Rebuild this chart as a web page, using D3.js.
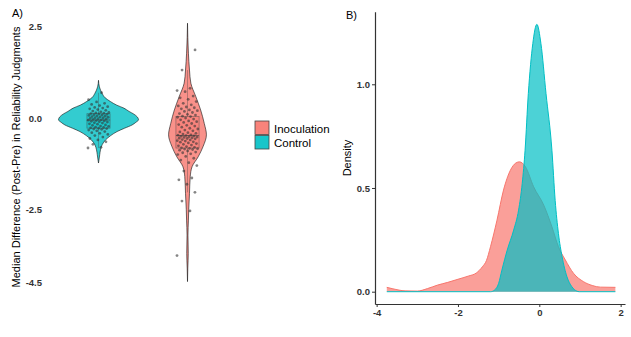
<!DOCTYPE html>
<html>
<head>
<meta charset="utf-8">
<script src="https://cdn.jsdelivr.net/npm/d3@7"></script>
<style>
  body { margin: 0; background: #fff; }
  svg { display: block; font-family: "Liberation Sans", Arial, sans-serif; }
</style>
</head>
<body>
<div id="chart"></div>
<script>
// groups and colours (ggplot defaults)
const groups = ["Control", "Inoculation"];
const legendGroups = ["Inoculation", "Control"];
const colors = { Inoculation: "#F8766D", Control: "#00BFC4" };

// raw points (median post-pre differences)
const controlPoints = [
  -0.82, -0.8, -0.72, -0.65, -0.6, -0.56, -0.52, -0.48, -0.45, -0.42, -0.4, -0.37, -0.35,
  -0.33, -0.31, -0.3, -0.29, -0.28, -0.27, -0.26, -0.25, -0.23, -0.22, -0.2, -0.19, -0.17,
  -0.16, -0.14, -0.13, -0.11, -0.1, -0.09, -0.08, -0.07, -0.06, -0.05, -0.04, -0.03, -0.02,
  -0.01, 0.0, 0.01, 0.02, 0.03, 0.04, 0.05, 0.06, 0.07, 0.08, 0.09, 0.1, 0.11, 0.12, 0.13,
  0.14, 0.15, 0.17, 0.19, 0.21, 0.23, 0.25, 0.27, 0.29, 0.31, 0.34, 0.37, 0.4, 0.44, 0.5, 0.69
];
const inoculationPoints = [
  -3.76, -2.54, -2.27, -2.03, -1.81, -1.69, -1.64, -1.45, -1.3, -1.22, -1.15, -1.1, -1.05,
  -1.0, -0.98, -0.95, -0.93, -0.9, -0.88, -0.86, -0.85, -0.84, -0.83, -0.82, -0.8, -0.78,
  -0.76, -0.74, -0.72, -0.7, -0.68, -0.66, -0.65, -0.63, -0.62, -0.6, -0.59, -0.57, -0.56,
  -0.55, -0.54, -0.53, -0.52, -0.51, -0.5, -0.49, -0.48, -0.47, -0.46, -0.44, -0.42, -0.4,
  -0.38, -0.35, -0.33, -0.3, -0.28, -0.25, -0.22, -0.2, -0.18, -0.15, -0.12, -0.1, -0.08,
  -0.05, -0.03, 0.0, 0.02, 0.04, 0.05, 0.08, 0.1, 0.12, 0.15, 0.18, 0.2, 0.22, 0.25, 0.28,
  0.3, 0.33, 0.36, 0.4, 0.45, 0.51, 0.55, 0.6, 0.72, 0.75, 0.81, 1.31, 1.86
];

// violin profiles [value, density] for panel A
const controlViolin = [
  [1.03, 0], [0.85, 0.03], [0.67, 0.12], [0.55, 0.22], [0.45, 0.39], [0.35, 0.6],
  [0.27, 0.83], [0.18, 1.0], [0.11, 1.15], [0.03, 1.27], [-0.05, 1.31], [-0.12, 1.22],
  [-0.19, 1.1], [-0.28, 0.85], [-0.37, 0.61], [-0.48, 0.4], [-0.6, 0.23], [-0.73, 0.12],
  [-0.87, 0.065], [-1.0, 0.04], [-1.15, 0.015], [-1.23, 0]
];
const inoculationViolin = [
  [2.59, 0], [2.2, 0.01], [1.77, 0.03], [1.31, 0.065], [0.95, 0.11], [0.59, 0.27],
  [0.22, 0.43], [-0.15, 0.55], [-0.46, 0.62], [-0.78, 0.51], [-1.06, 0.35], [-1.33, 0.15],
  [-1.6, 0.09], [-2.06, 0.065], [-2.5, 0.04], [-2.79, 0.03], [-3.2, 0.015], [-3.7, 0.025],
  [-4.1, 0.01], [-4.47, 0]
];

// density curves [value, density] for panel B
const inoculationDensity = [
  [-3.75, 0.021], [-3.6, 0.014], [-3.3, 0.004], [-3.0, 0.003], [-2.75, 0.015], [-2.5, 0.032],
  [-2.25, 0.045], [-2.0, 0.06], [-1.75, 0.075], [-1.55, 0.09], [-1.4, 0.12], [-1.3, 0.15],
  [-1.2, 0.217], [-1.04, 0.345], [-0.88, 0.49], [-0.71, 0.586], [-0.58, 0.62], [-0.49, 0.626],
  [-0.34, 0.602], [-0.14, 0.506], [0.11, 0.417], [0.31, 0.313], [0.47, 0.217], [0.64, 0.153],
  [0.84, 0.089], [1.09, 0.048], [1.3, 0.03], [1.5, 0.022], [1.87, 0.021]
];
const controlDensity = [
  [-3.75, 0], [-1.2, 0], [-1.1, 0.008], [-1.0, 0.04], [-0.92, 0.104], [-0.79, 0.2],
  [-0.63, 0.297], [-0.51, 0.393], [-0.42, 0.522], [-0.35, 0.682], [-0.27, 0.955],
  [-0.16, 1.196], [-0.06, 1.289], [0.04, 1.196], [0.165, 0.955], [0.31, 0.682], [0.39, 0.44],
  [0.47, 0.281], [0.56, 0.169], [0.68, 0.072], [0.8, 0.024], [0.92, 0.003], [0.98, 0], [1.87, 0]
];

const ticksA = [2.5, 0, -2.5, -4.5];
const ticksBy = [0, 0.5, 1];
const ticksBx = [-4, -2, 0, 2];

const points = { Control: controlPoints, Inoculation: inoculationPoints };
const violins = { Control: controlViolin, Inoculation: inoculationViolin };

const width = 631, height = 337;
const svg = d3.select("#chart").append("svg")
  .attr("width", width).attr("height", height);

// ---------- Panel A ----------
const yA = d3.scaleLinear().domain([2.5, -4.5]).range([26.5, 282.7]);
const xA = d3.scaleBand().domain(groups).range([54, 232]);
const wA = d3.scaleLinear().domain([0, 1.31]).range([0, 40]);

svg.append("text").attr("x", 12).attr("y", 17)
  .style("font-size", "11px").text("A)");

const axisA = svg.append("g").attr("transform", "translate(45,0)")
  .call(d3.axisLeft(yA).tickValues(ticksA).tickSize(0).tickPadding(3)
    .tickFormat(d => d.toFixed(1)));
axisA.select(".domain").remove();
axisA.selectAll("text").style("font-size", "9.5px").style("font-weight", "bold")
  .attr("fill", "#333").style("font-family", "Liberation Sans, Arial, sans-serif");

svg.append("text")
  .attr("transform", "translate(20,157) rotate(-90)")
  .attr("text-anchor", "middle")
  .style("font-size", "11px")
  .text("Median Difference (Post-Pre) in Reliability Judgments");

groups.forEach(g => {
  const cx = xA(g) + xA.bandwidth() / 2;
  const area = d3.area()
    .y(d => yA(d[0]))
    .x0(d => cx - wA(d[1]))
    .x1(d => cx + wA(d[1]))
    .curve(d3.curveMonotoneY);
  svg.append("path")
    .datum(violins[g])
    .attr("d", area)
    .attr("fill", colors[g]).attr("fill-opacity", 0.8)
    .attr("stroke", "#111").attr("stroke-width", 0.6);

  // box plot stats from the points
  const vals = points[g].slice().sort(d3.ascending);
  const q1 = d3.quantile(vals, 0.25), med = d3.quantile(vals, 0.5), q3 = d3.quantile(vals, 0.75);
  const iqr = q3 - q1;
  const lo = d3.min(vals.filter(v => v >= q1 - 1.5 * iqr));
  const hi = d3.max(vals.filter(v => v <= q3 + 1.5 * iqr));
  const bw = xA.bandwidth() * 0.26;
  const box = svg.append("g");
  box.append("line").attr("x1", cx).attr("x2", cx).attr("y1", yA(hi)).attr("y2", yA(q3))
    .attr("stroke", "#444").attr("stroke-opacity", 0.6).attr("stroke-width", 0.6);
  box.append("line").attr("x1", cx).attr("x2", cx).attr("y1", yA(q1)).attr("y2", yA(lo))
    .attr("stroke", "#444").attr("stroke-opacity", 0.6).attr("stroke-width", 0.6);
  box.append("rect")
    .attr("x", cx - bw / 2).attr("width", bw)
    .attr("y", yA(q3)).attr("height", yA(q1) - yA(q3))
    .attr("fill", colors[g]).attr("fill-opacity", 0.5)
    .attr("stroke", "#444").attr("stroke-opacity", 0.6).attr("stroke-width", 0.7);
  box.append("line").attr("x1", cx - bw / 2).attr("x2", cx + bw / 2)
    .attr("y1", yA(med)).attr("y2", yA(med))
    .attr("stroke", "#444").attr("stroke-opacity", 0.7).attr("stroke-width", 1);

  // jittered points (deterministic spread)
  svg.append("g").selectAll("circle")
    .data(points[g])
    .join("circle")
    .attr("cx", (d, i) => cx + (((i * 0.618034) % 1) - 0.5) * 21)
    .attr("cy", d => yA(d))
    .attr("r", 1.4)
    .attr("fill", "#333")
    .attr("fill-opacity", 0.6);
});

// legend
const legend = svg.append("g").attr("transform", "translate(255,121)");
legendGroups.forEach((g, i) => {
  legend.append("rect")
    .attr("x", 0).attr("y", i * 14.5).attr("width", 14).attr("height", 13.5)
    .attr("fill", colors[g]).attr("fill-opacity", 0.9)
    .attr("stroke", "#444").attr("stroke-width", 0.8);
  legend.append("text")
    .attr("x", 19).attr("y", i * 14.5 + 11.5)
    .style("font-size", "11.5px")
    .text(g);
});

// ---------- Panel B ----------
const xB = d3.scaleLinear().domain([-4.04, 2.107]).range([375, 625]);
const yB = d3.scaleLinear().domain([-0.0593, 1.35]).range([304, 11.7]);

svg.append("text").attr("x", 346).attr("y", 19)
  .style("font-size", "11px").text("B)");

svg.append("text")
  .attr("transform", "translate(351,158) rotate(-90)")
  .attr("text-anchor", "middle")
  .style("font-size", "11px")
  .text("Density");

const densities = [
  { g: "Inoculation", data: inoculationDensity },
  { g: "Control", data: controlDensity }
];
densities.forEach(({ g, data }) => {
  const area = d3.area()
    .x(d => xB(d[0])).y0(yB(0)).y1(d => yB(d[1]))
    .curve(d3.curveMonotoneX);
  const line = d3.line()
    .x(d => xB(d[0])).y(d => yB(d[1]))
    .curve(d3.curveMonotoneX);
  svg.append("path").datum(data).attr("d", area)
    .attr("fill", colors[g]).attr("fill-opacity", 0.7);
  svg.append("path").datum(data).attr("d", line)
    .attr("fill", "none").attr("stroke", colors[g]).attr("stroke-width", 1);
});

const axisBy = svg.append("g").attr("transform", "translate(375,0)")
  .call(d3.axisLeft(yB).tickValues(ticksBy).tickSize(3).tickSizeOuter(0).tickPadding(2)
    .tickFormat(d => d.toFixed(1)));
const axisBx = svg.append("g").attr("transform", "translate(0,304)")
  .call(d3.axisBottom(xB).tickValues(ticksBx).tickSize(3).tickSizeOuter(0).tickPadding(2)
    .tickFormat(d => String(d)));
[axisBy, axisBx].forEach(ax => {
  ax.select(".domain").attr("stroke", "#333").attr("stroke-width", 1.2);
  ax.selectAll(".tick line").attr("stroke", "#333");
  ax.selectAll("text").style("font-size", "9.5px").style("font-weight", "bold")
    .attr("fill", "#333").style("font-family", "Liberation Sans, Arial, sans-serif");
});
</script>
</body>
</html>
